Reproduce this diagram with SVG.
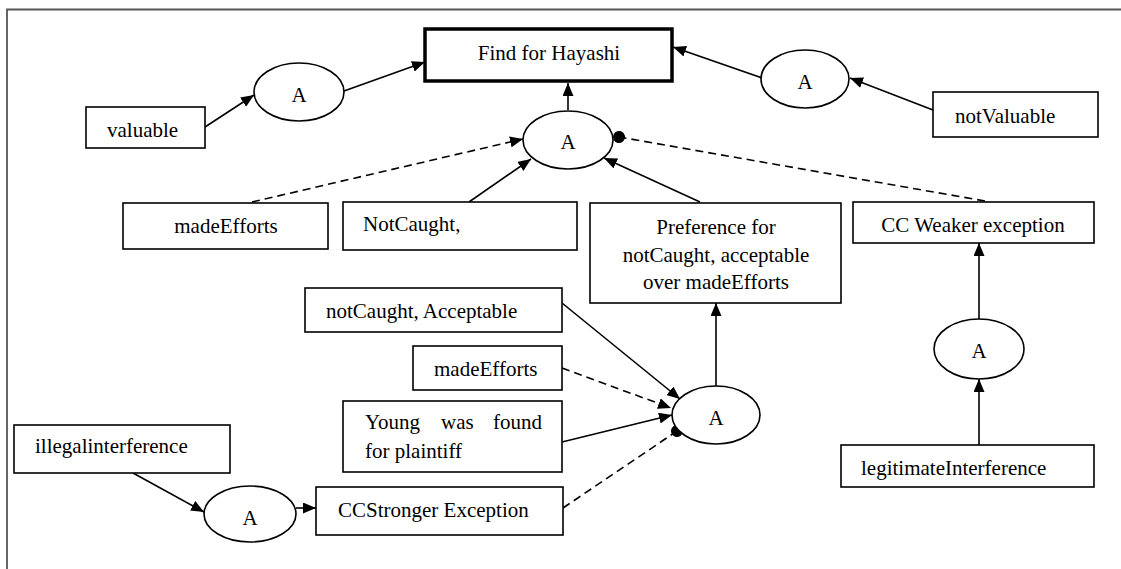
<svg xmlns="http://www.w3.org/2000/svg" width="1121" height="569" viewBox="0 0 1121 569">
<style>
.box{fill:#fff;stroke:#000;stroke-width:1.6}
.main{fill:#fff;stroke:#000;stroke-width:3.5}
.ell{fill:#fff;stroke:#000;stroke-width:1.6}
.t{font-family:"Liberation Serif","Times New Roman",serif;font-size:21px;fill:#000}
.c{text-anchor:middle}
.ln{fill:none;stroke:#000;stroke-width:1.6}
.ds{fill:none;stroke:#000;stroke-width:1.6;stroke-dasharray:8 5}
</style>
<defs>
<marker id="arr" viewBox="0 0 13 11" refX="13" refY="5.5" markerWidth="13" markerHeight="11" markerUnits="userSpaceOnUse" orient="auto"><path d="M0,0 L13,5.5 L0,11 z" fill="#000"/></marker>
<marker id="dot" viewBox="0 0 12 12" refX="6" refY="6" markerWidth="12" markerHeight="12" markerUnits="userSpaceOnUse" orient="auto"><circle cx="6" cy="6" r="6" fill="#000"/></marker>
</defs>
<rect width="1121" height="569" fill="#fff"/>
<path d="M7,569 V9.5 H1121" fill="none" stroke="#555" stroke-width="1.8"/>

<g id="connectors">
<line class="ln" x1="205" y1="127" x2="254" y2="95" marker-end="url(#arr)"/>
<line class="ln" x1="344" y1="91" x2="425" y2="62" marker-end="url(#arr)"/>
<line class="ln" x1="771" y1="81" x2="673" y2="47" marker-end="url(#arr)"/>
<line class="ln" x1="933" y1="110" x2="850" y2="78" marker-end="url(#arr)"/>
<line class="ln" x1="568" y1="110" x2="568" y2="83" marker-end="url(#arr)"/>
<line class="ds" x1="252" y1="202" x2="523" y2="139" marker-end="url(#arr)"/>
<line class="ln" x1="469" y1="202" x2="531" y2="159" marker-end="url(#arr)"/>
<line class="ln" x1="700" y1="202" x2="604" y2="158" marker-end="url(#arr)"/>
<line class="ds" x1="985" y1="201" x2="619" y2="137" marker-end="url(#dot)"/>
<line class="ln" x1="716" y1="386" x2="716" y2="303" marker-end="url(#arr)"/>
<line class="ln" x1="979" y1="319" x2="979" y2="243" marker-end="url(#arr)"/>
<line class="ln" x1="979" y1="445" x2="979" y2="379" marker-end="url(#arr)"/>
<line class="ln" x1="562" y1="303" x2="680" y2="399" marker-end="url(#arr)"/>
<line class="ds" x1="562" y1="368" x2="671" y2="408" marker-end="url(#arr)"/>
<line class="ln" x1="562" y1="442" x2="672" y2="415" marker-end="url(#arr)"/>
<line class="ds" x1="563" y1="508" x2="677" y2="431" marker-end="url(#dot)"/>
<line class="ln" x1="133" y1="473" x2="204" y2="512" marker-end="url(#arr)"/>
<line class="ln" x1="296" y1="508" x2="316" y2="508" marker-end="url(#arr)"/>
</g>

<g id="find"><rect class="main" x="425" y="29" width="247" height="52"/><text class="t c" x="549" y="60">Find for Hayashi</text></g>
<g id="a-left"><ellipse class="ell" cx="299" cy="92" rx="45" ry="29"/><text class="t c" x="299" y="102">A</text></g>
<g id="a-right"><ellipse class="ell" cx="805" cy="79" rx="44" ry="29"/><text class="t c" x="805" y="89">A</text></g>
<g id="valuable"><rect class="box" x="86" y="107" width="119" height="41"/><text class="t" x="107" y="137">valuable</text></g>
<g id="notvaluable"><rect class="box" x="933" y="92" width="165" height="45"/><text class="t" x="955" y="123">notValuable</text></g>
<g id="a-center"><ellipse class="ell" cx="568" cy="140" rx="45" ry="29"/><text class="t c" x="568" y="149">A</text></g>
<g id="madeefforts1"><rect class="box" x="123" y="203" width="205" height="46"/><text class="t c" x="226" y="233">madeEfforts</text></g>
<g id="notcaught"><rect class="box" x="343" y="202" width="234" height="48"/><text class="t" x="363" y="231">NotCaught,</text></g>
<g id="preference"><rect class="box" x="590" y="203" width="251" height="100"/><text class="t c" x="716" y="234">Preference for</text><text class="t c" x="716" y="262">notCaught, acceptable</text><text class="t c" x="716" y="289">over madeEfforts</text></g>
<g id="ccweaker"><rect class="box" x="853" y="202" width="241" height="41"/><text class="t c" x="973" y="232">CC Weaker exception</text></g>
<g id="a-right-lower"><ellipse class="ell" cx="979" cy="349" rx="45" ry="30"/><text class="t c" x="979" y="358">A</text></g>
<g id="legit"><rect class="box" x="841" y="445" width="253" height="42"/><text class="t" x="861" y="475">legitimateInterference</text></g>
<g id="notcaught-acc"><rect class="box" x="305" y="288" width="257" height="44"/><text class="t" x="326" y="318">notCaught, Acceptable</text></g>
<g id="madeefforts2"><rect class="box" x="413" y="346" width="149" height="44"/><text class="t" x="434" y="376">madeEfforts</text></g>
<g id="young"><rect class="box" x="343" y="401" width="219" height="71"/><text class="t" x="365" y="429">Young</text><text class="t" x="441" y="429">was</text><text class="t" x="493" y="429">found</text><text class="t" x="365" y="458">for plaintiff</text></g>
<g id="a-lower-center"><ellipse class="ell" cx="716" cy="415" rx="44" ry="29"/><text class="t c" x="716" y="425">A</text></g>
<g id="illegal"><rect class="box" x="14" y="425" width="216" height="48"/><text class="t" x="35" y="453">illegalinterference</text></g>
<g id="a-lower-left"><ellipse class="ell" cx="250" cy="514" rx="46" ry="28"/><text class="t c" x="250" y="525">A</text></g>
<g id="ccstronger"><rect class="box" x="316" y="487" width="247" height="48"/><text class="t" x="338" y="517">CCStronger Exception</text></g>
</svg>
